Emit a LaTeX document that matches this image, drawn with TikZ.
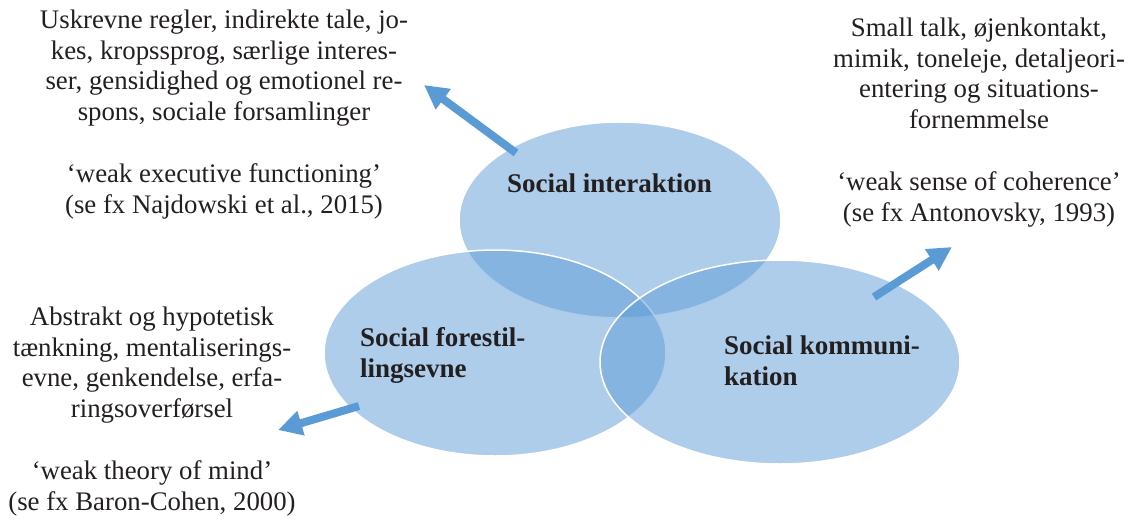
\documentclass[tikz,border=0pt]{standalone}
\usepackage{fontspec}
\setmainfont{Liberation Serif}
\usetikzlibrary{shapes.geometric,arrows.meta}
\definecolor{vennblue}{RGB}{91,155,213}
\definecolor{txt}{RGB}{35,31,32}
\begin{document}
\begin{tikzpicture}[x=1pt,y=-1pt,
  venn/.style={ellipse, fill=vennblue, fill opacity=0.5, draw=white, draw opacity=1, line width=1.5pt, inner sep=0pt},
  body/.style={align=center, text=txt, font=\fontsize{26.8}{30.8}\selectfont, inner sep=0pt, anchor=base},
  lbl/.style={align=left, text=txt, font=\fontsize{27}{31}\selectfont\bfseries, inner sep=0pt, anchor=base west},
  pointer/.style={draw=vennblue, line width=8pt, -{Triangle[length=24pt,width=24pt]}}]
\useasboundingbox (0,0) rectangle (1134,519);
% circles
\node[venn, minimum width=322pt, minimum height=196pt] (inter) at (620,220) {};
\node[venn, minimum width=342pt, minimum height=206pt] (fore) at (495,353) {};
\node[venn, minimum width=360pt, minimum height=204pt] (komm) at (780,362) {};
% arrow ends
\coordinate (interTail) at (516,153);
\coordinate (interTip) at (424,85);
\coordinate (kommTail) at (874,297);
\coordinate (kommTip) at (952,247);
\coordinate (foreTail) at (359,406);
\coordinate (foreTip) at (278,430);
\draw[pointer] (interTail) -- (interTip);
\draw[pointer] (kommTail) -- (kommTip);
\draw[pointer] (foreTail) -- (foreTip);
% labels (anchor = baseline of last line)
\node[lbl] (interLbl) at (507,192) {Social interaktion};
\node[lbl] (foreLbl) at (360,377) {Social forestil-\\lingsevne};
\node[lbl] (kommLbl) at (724,385) {Social kommuni-\\kation};
% text blocks (anchor = baseline of last line)
\node[body] (tlText) at (224,213) {Uskrevne regler, indirekte tale, jo-\\kes, kropssprog, særlige interes-\\ser, gensidighed og emotionel re-\\spons, sociale forsamlinger\\[30.8pt]‘weak executive functioning’\\(se fx Najdowski et al., 2015)};
\node[body] (trText) at (979,221) {Small talk, øjenkontakt,\\mimik, toneleje, detaljeori-\\entering og situations-\\fornemmelse\\[30.8pt]‘weak sense of coherence’\\(se fx Antonovsky, 1993)};
\node[body] (blText) at (152,510) {Abstrakt og hypotetisk\\tænkning, mentaliserings-\\evne, genkendelse, erfa-\\ringsoverførsel\\[30.8pt]‘weak theory of mind’\\(se fx Baron-Cohen, 2000)};
\end{tikzpicture}
\end{document}
